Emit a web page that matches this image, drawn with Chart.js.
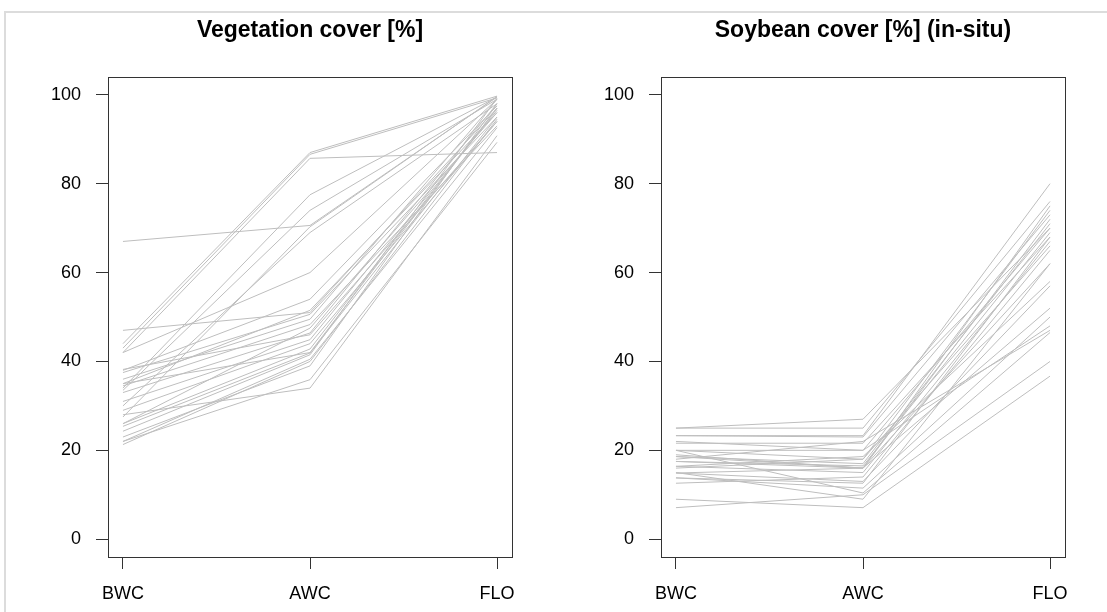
<!DOCTYPE html>
<html>
<head>
<meta charset="utf-8">
<script src="https://cdn.jsdelivr.net/npm/chart.js@4"></script>
<style>
  body { margin: 0; background: #fff; }
  #wrap { position: relative; width: 1107px; height: 612px; overflow: hidden; }
  #frame { position: absolute; left: 4px; top: 11px; width: 1200px; height: 700px;
           border-top: 2px solid #dcdcdc; border-left: 2px solid #dcdcdc; }
  canvas { position: absolute; top: 0; }
  #vegChart { left: 0; }
  #soyChart { left: 553px; }
</style>
</head>
<body>
<div id="wrap">
  <div id="frame"></div>
  <canvas id="vegChart" width="553" height="612"></canvas>
  <canvas id="soyChart" width="554" height="612"></canvas>
</div>
<script>
const categories = ["BWC", "AWC", "FLO"];
const yTicks = [0, 20, 40, 60, 80, 100];

// vegetation cover [%] per field, one value per stage
const vegBWC = [67, 44, 43, 42, 47, 34, 33.5, 27.5, 30, 42, 38, 35, 37.5, 36, 34.5, 33, 31, 29, 26, 25.4, 24.3, 22, 21.3, 23, 22, 28, 38.2, 35, 26];
const vegAWC = [70.6, 87, 86.6, 85.7, 51, 77.5, 74, 70.3, 69, 60, 54, 51.5, 50.6, 49.5, 48.3, 46.4, 44.9, 44, 42.8, 41.9, 41.5, 40.5, 40, 39, 35.9, 34, 46, 42, 47.5];
const vegFLO = [99.5, 99.7, 99.3, 87, 97, 99.5, 99, 99.6, 98, 99, 97.5, 96, 95, 99, 93, 98, 96.5, 94, 97, 95, 99.2, 92.6, 94.5, 98, 89.3, 90.8, 94, 97, 96];

// soybean cover [%] (in-situ)
const soyBWC = [25, 25, 23.3, 23.3, 21.6, 20, 20, 18.6, 18.6, 17.5, 17.5, 16.4, 16.4, 14.9, 14.9, 13.8, 13.8, 12.6, 20, 9, 7.1, 16, 18, 19, 15, 22];
const soyAWC = [27, 25, 23.3, 23, 21.6, 18, 20, 17, 16, 16, 16.5, 18.6, 15, 16, 13, 12.6, 11.5, 14, 10.4, 7.1, 10, 18, 22, 16, 9, 20];
const soyFLO = [70, 76, 80, 73, 68, 66, 48, 71, 62, 75, 69, 58, 67, 72, 57, 68, 50, 65, 46.5, 36.7, 40, 74, 47, 52, 62, 70];

const FONT = "'Liberation Sans', Arial, sans-serif";

const boxPlugin = {
  id: "box",
  afterDraw(chart) {
    const a = chart.chartArea;
    const ctx = chart.ctx;
    ctx.save();
    ctx.strokeStyle = "#333";
    ctx.lineWidth = 1;
    ctx.strokeRect(Math.round(a.left) + 0.5, Math.round(a.top) + 0.5,
      Math.round(a.right - a.left), Math.round(a.bottom - a.top));
    ctx.restore();
  }
};

function makeChart(id, title, b, w, f, padRight) {
  const datasets = b.map((v, i) => ({
    data: [{ x: 1, y: v }, { x: 2, y: w[i] }, { x: 3, y: f[i] }],
    borderColor: "#bebebe",
    borderWidth: 1,
    pointRadius: 0,
    tension: 0,
    fill: false
  }));
  return new Chart(document.getElementById(id), {
    type: "line",
    data: { datasets: datasets },
    options: {
      responsive: false,
      animation: false,
      layout: { padding: { left: 0, right: padRight, top: 0, bottom: 0 } },
      plugins: {
        legend: { display: false },
        tooltip: { enabled: false },
        title: {
          display: true,
          fullSize: false,
          text: title,
          color: "#000",
          font: { family: FONT, size: 23, weight: "bold", lineHeight: 1.2 },
          padding: { top: 17, bottom: 32.4 }
        }
      },
      scales: {
        x: {
          type: "linear",
          min: 0.92,
          max: 3.08,
          afterBuildTicks: (s) => { s.ticks = [1, 2, 3].map(v => ({ value: v })); },
          afterFit: (s) => { s.height = 55; },
          ticks: {
            callback: (v) => categories[v - 1],
            color: "#000",
            font: { family: FONT, size: 18 },
            padding: 14,
            maxRotation: 0,
            autoSkip: false
          },
          grid: { drawOnChartArea: false, drawTicks: true, tickLength: 12, color: "#333" },
          border: { display: true, color: "#333" }
        },
        y: {
          type: "linear",
          min: -4,
          max: 104,
          afterBuildTicks: (s) => { s.ticks = yTicks.map(v => ({ value: v })); },
          afterFit: (s) => { s.width = 108; },
          ticks: {
            color: "#000",
            font: { family: FONT, size: 18 },
            padding: 15
          },
          grid: { drawOnChartArea: false, drawTicks: true, tickLength: 12, color: "#333" },
          border: { display: true, color: "#333" }
        }
      }
    },
    plugins: [boxPlugin]
  });
}

makeChart("vegChart", "Vegetation cover [%]", vegBWC, vegAWC, vegFLO, 41);
makeChart("soyChart", "Soybean cover [%] (in-situ)", soyBWC, soyAWC, soyFLO, 42);
</script>
</body>
</html>
